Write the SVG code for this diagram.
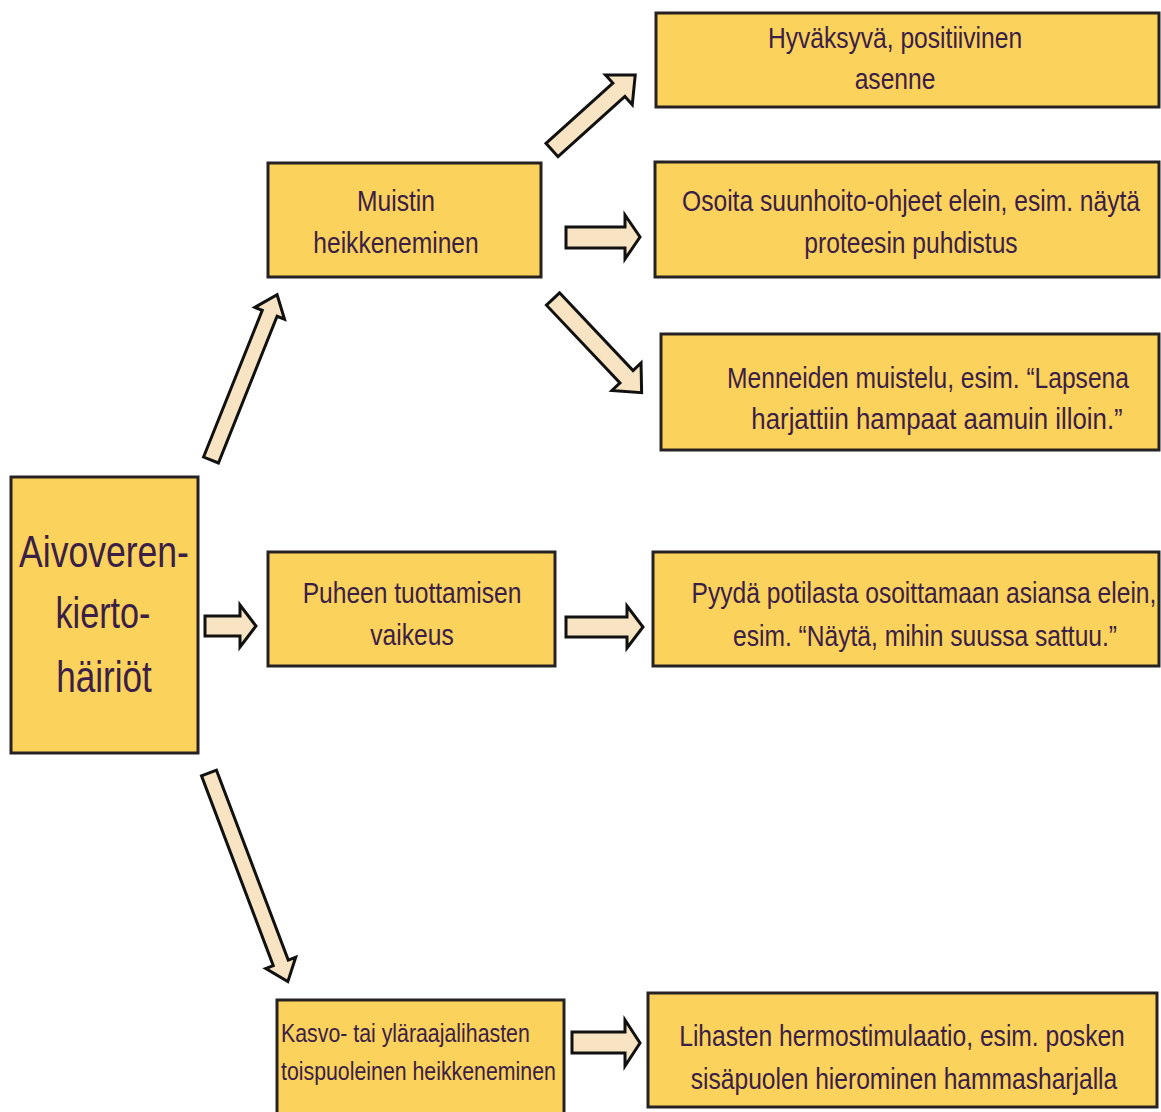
<svg xmlns="http://www.w3.org/2000/svg" width="1161" height="1112" viewBox="0 0 1161 1112">
  <defs>
    <style>
      .box { fill: #fbd25c; stroke: #262222; stroke-width: 3; }
      .txt { font-family: "Liberation Sans", Arial, sans-serif; font-size: 30px; fill: #3a2046; text-anchor: middle; }
      .big { font-size: 45px; }
      .small { font-size: 26px; text-anchor: start; }
      .arrow { fill: #f8e4c2; stroke: #111; stroke-width: 3; stroke-linejoin: miter; }
    </style>
  </defs>
  <rect x="0" y="0" width="1161" height="1112" fill="#ffffff"/>

  <!-- connectors: block arrows -->
  <g id="connectors">
    <!-- root -> memory (up) -->
    <path class="arrow" transform="translate(211,460) rotate(-68.2)" d="M0,-8 L158,-8 L158,-16 L178,0 L158,16 L158,8 L0,8 Z"/>
    <!-- root -> speech -->
    <path class="arrow" d="M205,616 L240,616 L240,605 L256,626 L240,647 L240,636 L205,636 Z"/>
    <!-- root -> muscles (down) -->
    <path class="arrow" transform="translate(209,773) rotate(69.3)" d="M0,-8 L203,-8 L203,-16 L223,0 L203,16 L203,8 L0,8 Z"/>
    <!-- memory -> attitude -->
    <path class="arrow" transform="translate(552,150) rotate(-42)" d="M0,-9 L90,-9 L90,-20 L112,0 L90,20 L90,9 L0,9 Z"/>
    <!-- memory -> gestures -->
    <path class="arrow" d="M566,227 L625,227 L625,215 L640,237 L625,259 L625,248 L566,248 Z"/>
    <!-- memory -> reminiscing -->
    <path class="arrow" transform="translate(553,299) rotate(46.6)" d="M0,-9 L107,-9 L107,-20 L129,0 L107,20 L107,9 L0,9 Z"/>
    <!-- speech -> ask to show -->
    <path class="arrow" d="M566,617 L627,617 L627,606 L643,627 L627,648 L627,637 L566,637 Z"/>
    <!-- muscles -> stimulation -->
    <path class="arrow" d="M572,1032 L625,1032 L625,1020 L640,1043 L625,1066 L625,1053 L572,1053 Z"/>
  </g>

  <!-- labels use a narrowed sans: horizontal scale applied per line -->
  <g id="root">
    <rect class="box" x="11" y="477" width="187" height="276"/>
    <text class="txt big" transform="translate(104,0) scale(0.79,1)" x="0" y="567">Aivoveren-</text>
    <text class="txt big" transform="translate(103,0) scale(0.76,1)" x="0" y="628">kierto-</text>
    <text class="txt big" transform="translate(104,0) scale(0.78,1)" x="0" y="692">häiriöt</text>
  </g>

  <g id="memory">
    <rect class="box" x="268" y="163" width="273" height="114"/>
    <text class="txt" transform="translate(396,0) scale(0.82,1)" x="0" y="211">Muistin</text>
    <text class="txt" transform="translate(396,0) scale(0.82,1)" x="0" y="253">heikkeneminen</text>
  </g>

  <g id="speech">
    <rect class="box" x="268" y="552" width="287" height="114"/>
    <text class="txt" transform="translate(412,0) scale(0.82,1)" x="0" y="603">Puheen tuottamisen</text>
    <text class="txt" transform="translate(412,0) scale(0.82,1)" x="0" y="645">vaikeus</text>
  </g>

  <g id="muscles">
    <rect class="box" x="277" y="1000" width="287" height="130"/>
    <text class="txt small" transform="translate(281,0) scale(0.82,1)" x="0" y="1042">Kasvo- tai yläraajalihasten</text>
    <text class="txt small" transform="translate(281,0) scale(0.82,1)" x="0" y="1080">toispuoleinen heikkeneminen</text>
  </g>

  <g id="attitude">
    <rect class="box" x="656" y="13" width="503" height="94"/>
    <text class="txt" transform="translate(895,0) scale(0.82,1)" x="0" y="48">Hyväksyvä, positiivinen</text>
    <text class="txt" transform="translate(895,0) scale(0.82,1)" x="0" y="89">asenne</text>
  </g>

  <g id="gestures">
    <rect class="box" x="655" y="162" width="504" height="115"/>
    <text class="txt" transform="translate(911,0) scale(0.82,1)" x="0" y="211">Osoita suunhoito-ohjeet elein, esim. näytä</text>
    <text class="txt" transform="translate(911,0) scale(0.82,1)" x="0" y="253">proteesin puhdistus</text>
  </g>

  <g id="reminiscing">
    <rect class="box" x="661" y="334" width="498" height="116"/>
    <text class="txt" transform="translate(928,0) scale(0.82,1)" x="0" y="388">Menneiden muistelu, esim. “Lapsena</text>
    <text class="txt" transform="translate(937,0) scale(0.86,1)" x="0" y="429">harjattiin hampaat aamuin illoin.”</text>
  </g>

  <g id="ask-to-show">
    <rect class="box" x="653" y="552" width="506" height="114"/>
    <text class="txt" transform="translate(924,0) scale(0.82,1)" x="0" y="603">Pyydä potilasta osoittamaan asiansa elein,</text>
    <text class="txt" transform="translate(925,0) scale(0.82,1)" x="0" y="646">esim. “Näytä, mihin suussa sattuu.”</text>
  </g>

  <g id="stimulation">
    <rect class="box" x="648" y="993" width="509" height="114"/>
    <text class="txt" transform="translate(902,0) scale(0.82,1)" x="0" y="1046">Lihasten hermostimulaatio, esim. posken</text>
    <text class="txt" transform="translate(904,0) scale(0.82,1)" x="0" y="1089">sisäpuolen hierominen hammasharjalla</text>
  </g>
</svg>
